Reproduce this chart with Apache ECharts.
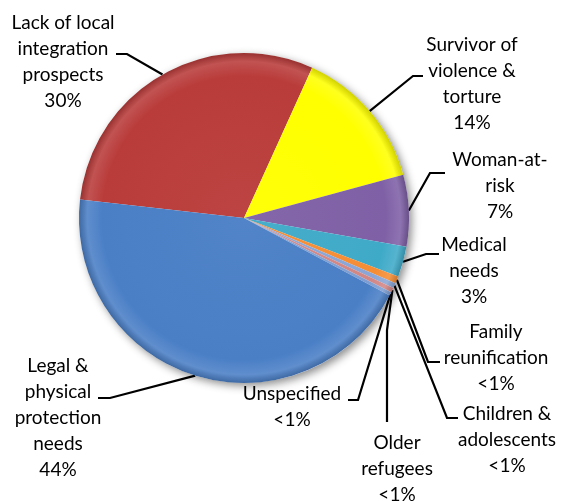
<!DOCTYPE html>
<html>
<head>
<meta charset="utf-8">
<script src="https://cdn.jsdelivr.net/npm/echarts@6/dist/echarts.min.js"></script>
<style>
  html, body { margin: 0; padding: 0; background: #ffffff; }
  #chart { width: 562px; height: 501px; }
</style>
</head>
<body>
<div id="chart"></div>
<script>
// Resettlement needs, share of submissions (%), listed clockwise
const categories = [
  'Lack of local integration prospects',
  'Survivor of violence & torture',
  'Woman-at-risk',
  'Medical needs',
  'Family reunification',
  'Children & adolescents',
  'Older refugees',
  'Unspecified',
  'Legal & physical protection needs'
];
const shares = [30, 14, 7, 3, 0.7, 0.5, 0.45, 0.35, 44];
// Wrapped label text for each category
const labelText = [
  'Lack of local\nintegration\nprospects',
  'Survivor of\nviolence &\ntorture',
  'Woman-at-\nrisk',
  'Medical\nneeds',
  'Family\nreunification',
  'Children &\nadolescents',
  'Older\nrefugees',
  'Unspecified',
  'Legal &\nphysical\nprotection\nneeds'
];
const sliceColors = ['#B93C3A', '#FFFF00', '#7F60A6', '#3FAAC8', '#F58D35', '#8AA6D6', '#D38785', '#7E9ED3', '#4A7FC6'];

// Label block centres and leader-line elbows
const placement = [
  { x: 63,  y: 62,  bend: [127, 54],  end: [116, 54] },
  { x: 472, y: 84,  bend: [413, 76],  end: [423, 76] },
  { x: 500, y: 186, bend: [430, 173], end: [445, 173] },
  { x: 474, y: 271, bend: [426, 254], end: [439, 254] },
  { x: 496, y: 358, bend: [428, 362], end: [440, 362] },
  { x: 507, y: 440, bend: [447, 418], end: [458, 418] },
  { x: 397, y: 469, bend: [387, 330], end: [387, 422] },
  { x: 292, y: 407, bend: [358, 400], end: [348, 400] },
  { x: 58,  y: 418, bend: [110, 398], end: [98, 398] }
];

const CX = 244, CY = 218, R = 165;

function shade(hex, f) {
  const n = parseInt(hex.slice(1), 16);
  let r = (n >> 16) & 255, g = (n >> 8) & 255, b = n & 255;
  const mix = c => f >= 0 ? Math.round(c + (255 - c) * f) : Math.round(c * (1 + f));
  return 'rgb(' + mix(r) + ',' + mix(g) + ',' + mix(b) + ')';
}

function bevelFill(base) {
  return {
    type: 'radial', x: CX, y: CY, r: R, global: true,
    colorStops: [
      { offset: 0, color: shade(base, 0.04) },
      { offset: 0.86, color: base },
      { offset: 0.95, color: shade(base, 0.12) },
      { offset: 1, color: shade(base, -0.18) }
    ]
  };
}

const pieData = categories.map((name, i) => ({
  name: name,
  value: shares[i],
  itemStyle: { color: bevelFill(sliceColors[i]) }
}));

const chart = echarts.init(document.getElementById('chart'), null, { renderer: 'canvas' });
chart.setOption({
  backgroundColor: '#ffffff',
  animation: false,
  series: [
    {
      // soft drop shadow under the disc
      type: 'pie',
      silent: true,
      center: [CX, CY],
      radius: [0, R],
      z: 1,
      label: { show: false },
      labelLine: { show: false },
      data: [{ value: 1, itemStyle: { color: '#ffffff', shadowBlur: 8, shadowOffsetX: 3, shadowOffsetY: 3, shadowColor: 'rgba(0,0,0,0.45)' } }]
    },
    {
      type: 'pie',
      center: [CX, CY],
      radius: [0, R],
      z: 2,
      startAngle: 173.6,
      clockwise: true,
      avoidLabelOverlap: false,
      minAngle: 0,
      itemStyle: { borderWidth: 0 },
      label: {
        show: true,
        position: 'outside',
        formatter: p => labelText[p.dataIndex] + '\n' + (p.value < 1 ? '<1%' : Math.round(p.value) + '%'),
        fontFamily: 'Lato',
        fontSize: 19,
        lineHeight: 26,
        color: '#000000',
        align: 'center'
      },
      labelLine: {
        show: true,
        length: 12,
        length2: 10,
        smooth: false,
        lineStyle: { color: '#000000', width: 2.2 }
      },
      labelLayout: function (params) {
        const pl = placement[params.dataIndex];
        const rim = params.labelLinePoints ? params.labelLinePoints[0] : pl.bend;
        return {
          x: pl.x,
          y: pl.y,
          align: 'center',
          verticalAlign: 'middle',
          labelLinePoints: [rim, pl.bend, pl.end]
        };
      },
      data: pieData
    }
  ]
});
</script>
</body>
</html>
